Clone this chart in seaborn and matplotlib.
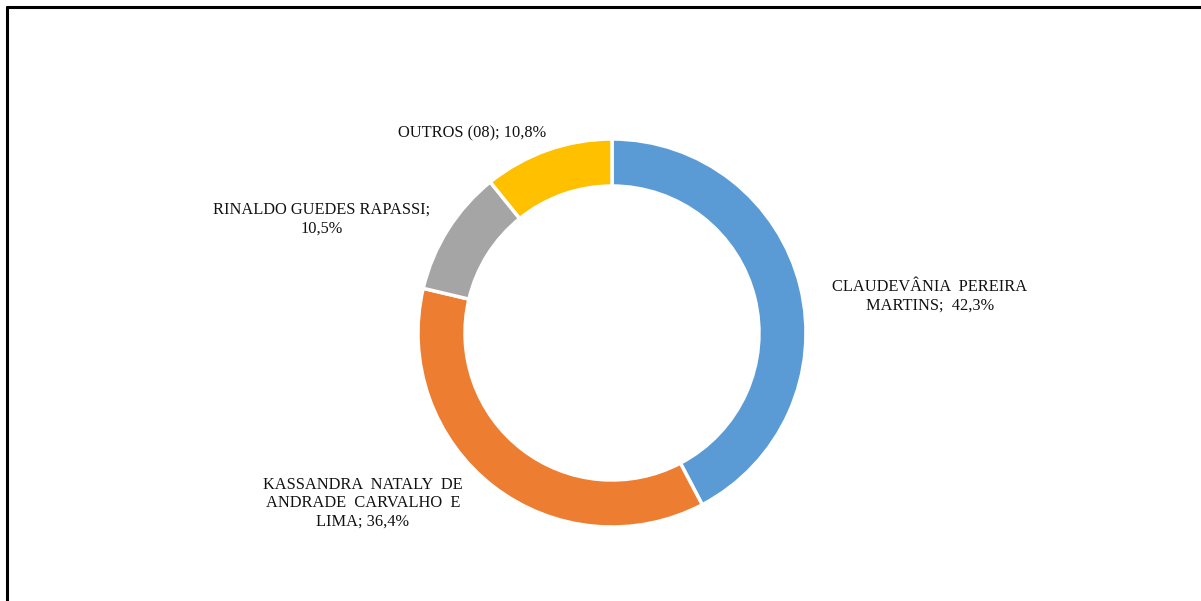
import matplotlib
matplotlib.use("Agg")
import matplotlib.pyplot as plt
from matplotlib.lines import Line2D
import seaborn as sns

# Data
names = ["CLAUDEVÂNIA  PEREIRA\nMARTINS;  42,3%",
         "KASSANDRA  NATALY  DE\nANDRADE  CARVALHO  E\nLIMA; 36,4%",
         "RINALDO GUEDES RAPASSI;\n10,5%",
         "OUTROS (08); 10,8%"]
values = [42.3, 36.4, 10.5, 10.8]
colors = ["#5B9BD5", "#ED7D31", "#A5A5A5", "#FFC000"]

sns.set_theme(style="white")
plt.rcParams["font.family"] = ["Liberation Serif", "DejaVu Serif"]

W, H = 1201, 601
fig = plt.figure(figsize=(W / 100, H / 100), dpi=100)
ax = fig.add_axes([0, 0, 1, 1])

cx, cy, R, ring = 612, H - 333, 194, 47
ax.pie(values, colors=colors, startangle=90, counterclock=False,
       center=(cx, cy), radius=R, frame=True,
       wedgeprops=dict(width=ring, edgecolor="white", linewidth=2.5))
ax.set_xlim(0, W)
ax.set_ylim(0, H)
ax.set_aspect("equal")
ax.axis("off")

# label anchor positions (pixel coords, y from top) - centre of text block
label_pos = [(930, 296), (363, 503), (322, 219), (472, 133)]
for txt, (x, y) in zip(names, label_pos):
    ax.text(x, H - y, txt, ha="center", va="center", multialignment="center",
            fontsize=11.8, color="#111111", linespacing=1.2)

# partial frame
lw = 2.2
fig.add_artist(Line2D([7 / W, 7 / W], [0, 1 - 7 / H], color="black", lw=lw,
                      transform=fig.transFigure))
fig.add_artist(Line2D([7 / W, 1], [1 - 7 / H, 1 - 7 / H], color="black", lw=lw,
                      transform=fig.transFigure))

fig.savefig("out.png", dpi=100, facecolor="white")
